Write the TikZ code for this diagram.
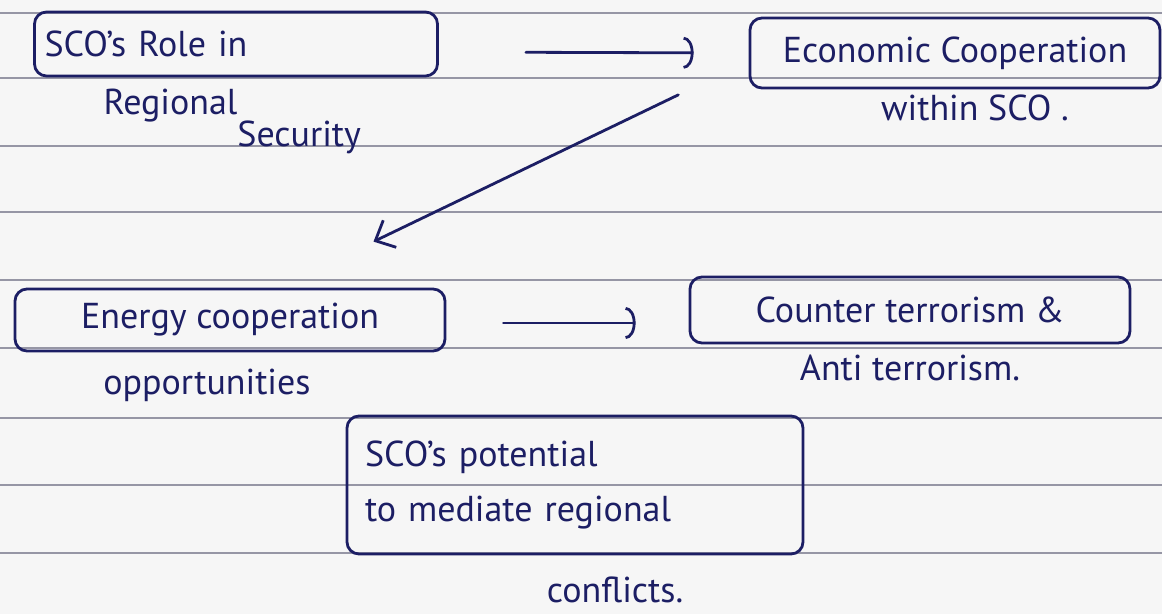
\documentclass[tikz,border=0pt]{standalone}
\usepackage{fontspec}
\setmainfont{PT Sans}
\usetikzlibrary{arrows.meta}

\definecolor{inchiostro}{RGB}{28,30,100}
\definecolor{righe}{RGB}{150,150,165}
\definecolor{carta}{RGB}{246,246,246}

\begin{document}
\begin{tikzpicture}[x=1pt,y=-1pt,
  every node/.style={font=\fontsize{36}{42}\selectfont, text=inchiostro},
  riquadro/.style={draw=inchiostro, line width=2.8pt, rounded corners=12pt, inner xsep=10pt},
  freccia/.style={draw=inchiostro, line width=2.8pt, line cap=round, -{Arc Barb[length=10pt,width=32pt]}},
  freccia2/.style={draw=inchiostro, line width=2.8pt, line cap=round, -{Straight Barb[length=16pt,width=30pt]}}]
% Foglio a righe
\fill[carta] (0,0) rectangle (1162,614);
\useasboundingbox (0,0) rectangle (1162,614);
\foreach \y in {13,78,146,212,280,348,418,485,553}
  \draw[righe, line width=1.8pt] (0,\y) -- (1162,\y);

% Riquadri
\node[riquadro, minimum width=403pt, minimum height=64pt, text width=383pt, align=left] (ruolo) at (236,44) {SCO's Role in};
\node[riquadro, minimum width=410pt, minimum height=70pt] (economia) at (955,53) {Economic Cooperation};
\node[riquadro, minimum width=430pt, minimum height=62pt] (energia) at (230,320) {Energy cooperation};
\node[riquadro, minimum width=440pt, minimum height=66pt] (terrorismo) at (910,310) {Counter terrorism \&};
\node[riquadro, text width=420pt, inner xsep=18pt, minimum height=138pt, align=left,
  font=\fontsize{36}{55}\selectfont] (mediazione) at (575,485) {SCO's potential\\to mediate regional};

% Scritte sotto i riquadri
\node[anchor=base west] (sicurezza) at (100,114) {Regional\raisebox{-32pt}{Security}};
\node (entro) at (975,108) {within SCO .};
\node (opportunita) at (207,385) {opportunities};
\node (anti) at (910,368) {Anti terrorism.};
\node (conflitti) at (615,590) {conflicts.};

% Frecce
\draw[freccia, shorten <=87pt, shorten >=55pt] ([yshift=-8pt]ruolo.east) -- (economia.west);
\draw[freccia2, shorten <=78pt, shorten >=106pt] ([yshift=-8pt]economia.west) -- ([xshift=48pt]energia.north);
\draw[freccia, shorten <=57pt, shorten >=53pt] ([yshift=-3pt]energia.east) -- ([yshift=-13pt]terrorismo.west);
\end{tikzpicture}
\end{document}
